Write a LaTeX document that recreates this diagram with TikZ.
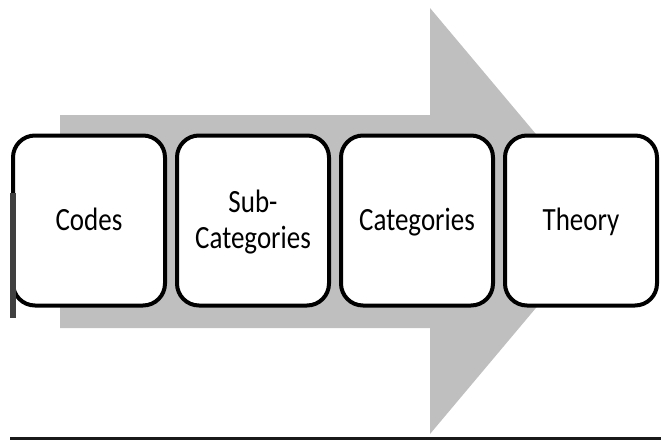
\documentclass[tikz,border=0pt]{standalone}
\usepackage{graphicx}
\usepackage{fontspec}
\setmainfont{Carlito}
% labels are set a little taller than wide
\newcommand\stagelabel[1]{\raisebox{-3pt}[\height][\depth]{\scalebox{1}[1.2]{\begin{tabular}{@{}c@{}}#1\end{tabular}}}}
\begin{document}
\begin{tikzpicture}[x=1pt,y=-1pt,
    stage/.style={draw,line width=4pt,rounded corners=22pt,fill=white,
      minimum width=152pt,minimum height=170pt,inner sep=0pt,
      font=\fontsize{27}{30}\selectfont}]
        \def\xmin{0} \def\xmax{661}
        \def\ymin{0} \def\ymax{440}
        \useasboundingbox (\xmin,\ymin) rectangle (\xmax,\ymax);

        % grey process arrow behind the boxes
        \fill[gray!50] (60,115) -- (430,115) -- (430,8) -- (609,221)
          -- (430,434) -- (430,328) -- (60,328) -- cycle;

        \node (codes) at (89,220.5) [stage] {\stagelabel{Codes}};
        \node (subcat) at (253,220.5) [stage] {\stagelabel{Sub-\\Categories}};
        \node (cat) at (417,220.5) [stage] {\stagelabel{Categories}};
        \node (theory) at (581,220.5) [stage] {\stagelabel{Theory}};

        % edge marks
        \draw[line width=6pt,black!75] (13,193) -- (13,318);
        \draw[line width=3pt,black!90] (10,438.5) -- (\xmax,438.5);
      \end{tikzpicture}
\end{document}
